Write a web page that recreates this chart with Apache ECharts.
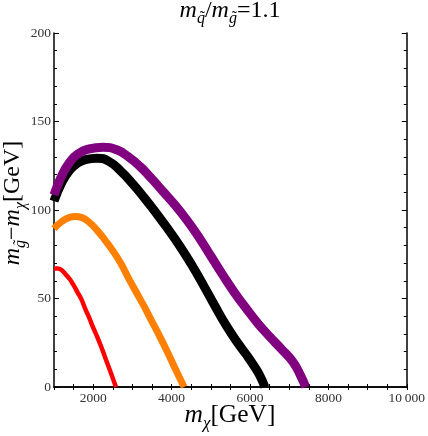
<!DOCTYPE html>
<html>
<head>
<meta charset="utf-8">
<script src="https://cdn.jsdelivr.net/npm/echarts@6/dist/echarts.min.js"></script>
<style>
html,body{margin:0;padding:0;background:#fff;}
#c{width:428px;height:436px;}
</style>
</head>
<body>
<div id="c"></div>
<script>
// x = m_chi [GeV], y = m_gluino - m_chi [GeV]
const redX    = [1000,1100,1200,1300,1400,1500,1600,1700,1800,1900,2000,2100,2200,2300,2400,2500,2580];
const redY    = [67,67,66,63.5,61,57.5,53.5,49.5,44,39,33.5,28.5,23,17,11,5,0];
const orangeX = [1000,1200,1400,1550,1700,1900,2100,2300,2500,2700,2900,3100,3300,3500,3700,3900,4100,4320];
const orangeY = [89.5,93.5,95.8,96.3,95.8,93,88.5,83,77,70,61.5,53.5,45.5,37,28.5,19.5,10,0];
const blackX  = [1000,1200,1400,1600,1800,2100,2400,2700,3000,3300,3600,3900,4200,4500,4800,5100,5400,5700,5900,6100,6250,6380];
const blackY  = [105,115.5,122.5,126.5,128.5,129.3,127.5,122,115,107,98.5,89.5,80,69.5,58,46,34.5,24.5,18.5,12,6.5,0];
const purpleX = [1000,1200,1400,1600,1900,2250,2600,2900,3200,3500,3800,4100,4400,4700,5000,5300,5600,5900,6200,6500,6800,7100,7300,7420];
const purpleY = [108.5,119.5,127,131.5,134.5,135.5,134,130,124.5,117.5,110,102.5,94,84.5,74,63.5,53.5,44.5,36,28.5,21.5,14,6,0];

const xTickLabels = [2000,4000,6000,8000,10000];
const yTickLabels = [0,50,100,150,200];

const zip = (xs, ys) => xs.map((x, i) => [x, ys[i]]);
const serif = '"Liberation Serif","DejaVu Serif",serif';

// text measuring for hand-built math labels
const mctx = document.createElement('canvas').getContext('2d');
function fontStr(size, italic) { return (italic ? 'italic ' : '') + size + 'px ' + serif; }
function tw(t, size, italic) { mctx.font = fontStr(size, italic); return mctx.measureText(t).width; }

// pieces: [text, size, italic, baselineShift, tilde]
function mathRun(pieces) {
  const widths = pieces.map(p => tw(p[0], p[1], p[2]));
  const total = widths.reduce((a, b) => a + b, 0);
  let x = -total / 2;
  const kids = [];
  pieces.forEach((p, i) => {
    const [t, size, italic, dy, tilde] = p;
    const mid = dy - 0.34 * size;
    kids.push({type: 'text', x: x, y: mid, style: {
      text: t, fontFamily: serif, fontSize: size, fontStyle: italic ? 'italic' : 'normal',
      fill: '#000', align: 'left', verticalAlign: 'middle'}});
    if (tilde) {
      kids.push({type: 'text', x: x + widths[i] / 2 + 1.5, y: mid - 1, style: {
        text: '\u02dc', fontFamily: serif, fontSize: size, fill: '#000',
        align: 'center', verticalAlign: 'middle'}});
    }
    x += widths[i];
  });
  return kids;
}

const chart = echarts.init(document.getElementById('c'), null, {renderer: 'canvas'});

function lineSeries(name, xs, ys, color, width) {
  return {
    name, type: 'line', data: zip(xs, ys), showSymbol: false, symbol: 'none',
    smooth: 0.5, clip: true,
    lineStyle: {color, width, cap: 'butt', join: 'round'}, z: 3
  };
}

const axisLineStyle = {color: '#000', width: 1.5};

chart.setOption({
  animation: false,
  backgroundColor: '#fff',
  grid: {left: 54, right: 20, top: 33, bottom: 49, containLabel: false},
  xAxis: [{
    type: 'value', min: 1000, max: 10000, interval: 500,
    axisLine: {show: true, lineStyle: axisLineStyle},
    axisTick: {show: true, inside: true, length: 3, lineStyle: {color: '#000', width: 1}},
    splitLine: {show: false},
    axisLabel: {
      color: '#333', fontFamily: serif, fontSize: 13.5, margin: 4,
      showMinLabel: false, showMaxLabel: true,
      formatter: v => (xTickLabels.indexOf(v) >= 0 ? (v === 10000 ? '10\u2009000' : String(v)) : '')
    }
  }, {
    type: 'value', position: 'top', min: 1000, max: 10000, interval: 500,
    axisLine: {show: true, lineStyle: axisLineStyle},
    axisTick: {show: true, inside: true, length: 3, lineStyle: {color: '#000', width: 1}},
    splitLine: {show: false}, axisLabel: {show: false}
  }],
  yAxis: [{
    type: 'value', min: 0, max: 200, interval: 50,
    axisLine: {show: true, lineStyle: axisLineStyle},
    axisTick: {show: true, inside: true, length: 5, lineStyle: {color: '#000', width: 1}},
    minorTick: {show: true, splitNumber: 5, length: 3, lineStyle: {color: '#000', width: 1}},
    splitLine: {show: false},
    axisLabel: {
      color: '#333', fontFamily: serif, fontSize: 13.5, margin: 3,
      formatter: v => (yTickLabels.indexOf(v) >= 0 ? String(v) : '')
    }
  }, {
    type: 'value', position: 'right', min: 0, max: 200, interval: 50,
    axisLine: {show: true, lineStyle: axisLineStyle},
    axisTick: {show: true, inside: true, length: 5, lineStyle: {color: '#000', width: 1}},
    minorTick: {show: true, splitNumber: 5, length: 3, lineStyle: {color: '#000', width: 1}},
    splitLine: {show: false}, axisLabel: {show: false}
  }],
  series: [
    lineSeries('red', redX, redY, '#FF0000', 4.5),
    lineSeries('orange', orangeX, orangeY, '#FF8000', 7),
    lineSeries('black', blackX, blackY, '#000000', 9),
    lineSeries('purple', purpleX, purpleY, '#800080', 9)
  ],
  graphic: [
    {
      type: 'group', x: 230, y: 19,
      children: mathRun([
        ['m', 24, true, 0], ['q', 16, true, 5, true], ['/', 24, false, 0],
        ['m', 24, true, 0], ['g', 16, true, 5, true], ['=1.1', 24, false, 0]
      ])
    },
    {
      type: 'group', x: 230, y: 424,
      children: mathRun([
        ['m', 25.5, true, 0], ['\u03c7', 17, true, 5], ['[GeV]', 25.5, false, 0]
      ])
    },
    {
      type: 'group', x: 21, y: 203, rotation: Math.PI / 2,
      children: mathRun([
        ['m', 24, true, 0], ['g', 16, true, 5, true], ['\u2212', 24, false, 0],
        ['m', 24, true, 0], ['\u03c7', 16, true, 5], ['[GeV]', 24, false, 0]
      ])
    }
  ]
});
</script>
</body>
</html>
